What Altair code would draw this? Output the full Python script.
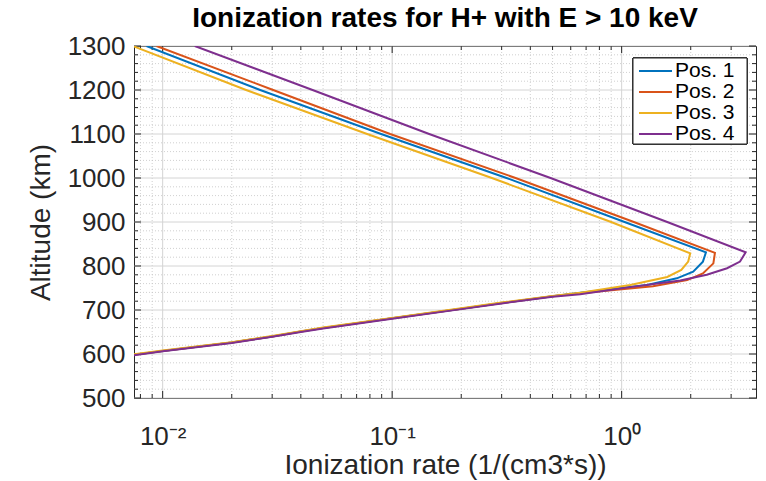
import altair as alt
import pandas as pd

# ---------------- data ----------------
series_names = ["Pos. 1", "Pos. 2", "Pos. 3", "Pos. 4"]
series_colors = ["#0072BD", "#D95319", "#EDB120", "#7E2F8E"]

pos1_alt = [1300, 1200, 1100, 1000, 900, 831, 810, 787, 772, 757, 739, 731, 716, 703, 681, 659, 651, 640, 626, 607, 598, 593]
pos1_rate = [0.0085, 0.0266, 0.0895, 0.315, 1.03, 2.33, 2.26, 2.05, 1.74, 1.29, 0.66, 0.5, 0.3, 0.2, 0.1, 0.05, 0.04, 0.03, 0.02, 0.01, 0.0074, 0.0064]

pos2_alt = [1300, 1200, 1100, 1000, 900, 830, 806, 783, 768, 754, 738, 731, 716, 703, 681, 659, 651, 640, 626, 607, 598, 593]
pos2_rate = [0.0094, 0.0303, 0.098, 0.345, 1.13, 2.55, 2.51, 2.26, 1.93, 1.37, 0.66, 0.5, 0.3, 0.2, 0.1, 0.05, 0.04, 0.03, 0.02, 0.01, 0.0074, 0.0064]

pos3_alt = [1300, 1200, 1100, 1000, 900, 829, 810, 791, 775, 757, 739, 732, 717, 704, 682, 660, 652, 641, 627, 608, 599, 594]
pos3_rate = [0.0074, 0.0231, 0.0778, 0.272, 0.90, 1.99, 1.95, 1.82, 1.58, 1.09, 0.66, 0.5, 0.3, 0.2, 0.1, 0.05, 0.04, 0.03, 0.02, 0.01, 0.0074, 0.0064]

pos4_alt = [1300, 1200, 1100, 1000, 900, 831, 810, 795, 780, 767, 752, 736, 730, 715, 702, 680, 658, 650, 639, 625, 606, 597, 592]
pos4_rate = [0.0138, 0.045, 0.145, 0.49, 1.58, 3.47, 3.28, 2.88, 2.35, 1.80, 1.09, 0.66, 0.5, 0.3, 0.2, 0.1, 0.05, 0.04, 0.03, 0.02, 0.01, 0.0074, 0.0064]

# axis ticks / grid positions
y_major = [500, 600, 700, 800, 900, 1000, 1100, 1200, 1300]
y_minor = [v for v in range(500, 1301, 20) if v % 100 != 0]
x_major = [0.01, 0.1, 1]
x_minor = [0.008, 0.009, 0.02, 0.03, 0.04, 0.05, 0.06, 0.07, 0.08, 0.09,
           0.2, 0.3, 0.4, 0.5, 0.6, 0.7, 0.8, 0.9, 2, 3]

X_DOMAIN = [0.0075, 3.85]
Y_DOMAIN = [500, 1300]
W, H = 622, 352
FONT = "Liberation Sans"
TXT = "#262626"

# ---------------- build table ----------------
rows = []
for name, alts, rates in [
    ("Pos. 1", pos1_alt, pos1_rate),
    ("Pos. 2", pos2_alt, pos2_rate),
    ("Pos. 3", pos3_alt, pos3_rate),
    ("Pos. 4", pos4_alt, pos4_rate),
]:
    for i, (a, r) in enumerate(zip(alts, rates)):
        rows.append({"series": name, "idx": i, "alt": a, "rate": r})
df = pd.DataFrame(rows)
legend_df = pd.DataFrame({"series": series_names, "rank": list(range(len(series_names)))})

xs = alt.Scale(type="log", domain=X_DOMAIN, nice=False, zero=False)
ys = alt.Scale(domain=Y_DOMAIN, nice=False, zero=False)
cs = alt.Scale(domain=series_names, range=series_colors)

label_expr = "datum.value < 0.05 ? '10⁻²' : (datum.value < 0.5 ? '10⁻¹' : '10⁰')"
x_axis = alt.Axis(values=x_major, labelExpr=label_expr, title="Ionization rate (1/(cm3*s))",
                  grid=False, domain=False, ticks=False, labelFontSize=26,
                  labelColor=TXT, labelPadding=25, titleFontSize=28,
                  titleFontWeight="normal", titleColor=TXT, titlePadding=2,
                  labelFont=FONT, titleFont=FONT)
y_axis = alt.Axis(values=y_major, format="d", title="Altitude (km)", grid=False, domain=False,
                  ticks=False, labelFontSize=26, labelColor=TXT, labelPadding=9,
                  titleFontSize=28, titleFontWeight="normal", titleColor=TXT,
                  titlePadding=12, labelFont=FONT, titleFont=FONT)

def X(field):
    return alt.X(field, scale=xs, axis=x_axis)

def Y(field):
    return alt.Y(field, scale=ys, axis=y_axis)

ymaj_df = pd.DataFrame({"alt": y_major})
ymin_df = pd.DataFrame({"alt": y_minor})
xmaj_df = pd.DataFrame({"rate": x_major})
xmin_df = pd.DataFrame({"rate": x_minor})

grid_color = "#d4d4d4"
minor_color = "#c4c4c4"

g_ymin = alt.Chart(ymin_df).mark_rule(color=minor_color, strokeWidth=0.8, strokeDash=[1, 2]).encode(
    y=Y("alt:Q"))
g_xmin = alt.Chart(xmin_df).mark_rule(color=minor_color, strokeWidth=0.8, strokeDash=[1, 2]).encode(
    x=X("rate:Q"))
g_ymaj = alt.Chart(ymaj_df).mark_rule(color=grid_color, strokeWidth=1).encode(
    y=Y("alt:Q"))
g_xmaj = alt.Chart(xmaj_df).mark_rule(color=grid_color, strokeWidth=1).encode(
    x=X("rate:Q"))

# inward ticks on all four sides (MATLAB box style)
MAJ, MIN = 7, 4
t_layers = []
for dfv, ln in [(ymaj_df, MAJ), (ymin_df, MIN)]:
    t_layers.append(alt.Chart(dfv).mark_rule(color=TXT, strokeWidth=1).encode(
        y=Y("alt:Q"), x=alt.value(0), x2=alt.value(ln)))
    t_layers.append(alt.Chart(dfv).mark_rule(color=TXT, strokeWidth=1).encode(
        y=Y("alt:Q"), x=alt.value(W - ln), x2=alt.value(W)))
for dfv, ln in [(xmaj_df, MAJ), (xmin_df, MIN)]:
    t_layers.append(alt.Chart(dfv).mark_rule(color=TXT, strokeWidth=1).encode(
        x=X("rate:Q"), y=alt.value(H - ln), y2=alt.value(H)))
    t_layers.append(alt.Chart(dfv).mark_rule(color=TXT, strokeWidth=1).encode(
        x=X("rate:Q"), y=alt.value(0), y2=alt.value(ln)))

lines = alt.Chart(df).mark_line(strokeWidth=2, clip=True).encode(
    x=X("rate:Q"),
    y=Y("alt:Q"),
    color=alt.Color("series:N", scale=cs, legend=None),
    order=alt.Order("idx:Q"),
)

main = alt.layer(g_ymin, g_xmin, g_ymaj, g_xmaj, *t_layers, lines)

# ---- MATLAB-style legend box (top right, inside the axes) ----
LX0, LX1, LY0, LY1 = 499, 613, 12, 98
ly = alt.Y("rank:Q", scale=alt.Scale(domain=[0, 3], range=[25, 88]), axis=None)
leg_box = alt.Chart(legend_df).mark_rect(fill="#ffffff", stroke=TXT, strokeWidth=1).encode(
    x=alt.value(LX0), x2=alt.value(LX1), y=alt.value(LY0), y2=alt.value(LY1))
leg_line = alt.Chart(legend_df).mark_rule(strokeWidth=2).encode(
    x=alt.value(505), x2=alt.value(538), y=ly,
    color=alt.Color("series:N", scale=cs, legend=None))
leg_text = alt.Chart(legend_df).mark_text(align="left", baseline="middle", fontSize=21,
                                          font=FONT, color="#000000").encode(
    x=alt.value(541), y=ly, text="series:N")
legend = alt.layer(leg_box, leg_line, leg_text)

chart = alt.layer(main, legend).resolve_scale(y="independent").properties(
    width=W, height=H,
    title=alt.TitleParams("Ionization rates for H+ with E > 10 keV", fontSize=28,
                          fontWeight="bold", font=FONT, color="#000000",
                          anchor="middle", offset=0),
    autosize=alt.AutoSizeParams(type="none"),
    padding={"left": 134, "top": 46, "right": 10, "bottom": 83},
).configure(background="#ffffff").configure_view(stroke=TXT, strokeWidth=1, fill="#ffffff")

chart.save("out.html", embed_options={"renderer": "svg", "actions": False})
